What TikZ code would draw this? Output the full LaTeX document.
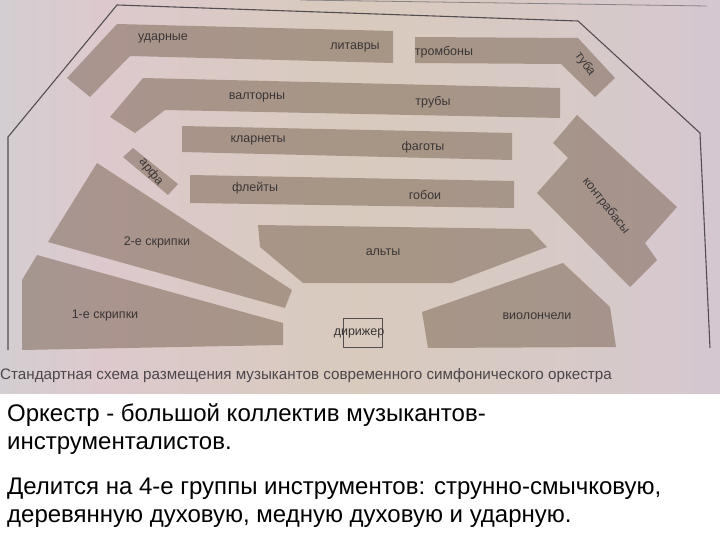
\documentclass[tikz,border=0pt]{standalone}
\usepackage{fontspec}
\setmainfont{Liberation Sans}
\definecolor{cA}{HTML}{D3CED1}
\definecolor{cB}{HTML}{DDC9CD}
\definecolor{cC}{HTML}{D8CABD}
\definecolor{cD}{HTML}{D7CAC6}
\definecolor{cE}{HTML}{D5C7D0}
\definecolor{blockc}{RGB}{100,76,56}
\definecolor{labelc}{HTML}{3A3637}
\definecolor{linec}{HTML}{544E52}
\pgfdeclarehorizontalshading{photo}{100bp}{color(0bp)=(cA); color(25bp)=(cA); color(32bp)=(cB); color(50bp)=(cC); color(63bp)=(cD); color(75bp)=(cE); color(100bp)=(cE)}
\begin{document}
\begin{tikzpicture}[x=1pt,y=-1pt,
  block/.style={fill=blockc,fill opacity=0.42,draw=none},
  lbl/.style={text=labelc,font=\fontsize{12.5}{14}\selectfont,inner sep=0pt},
  stage/.style={draw=linec,line width=1.1pt},
  body/.style={anchor=base west,inner sep=0pt,font=\fontsize{24}{28}\selectfont,text=black}]
\useasboundingbox (0,0) rectangle (720,540);
\shade[shading=photo] (0,0) rectangle (720,394);
\fill[white] (0,394) rectangle (720,540);
% stage outline
\draw[stage] (8,350) -- (8,137) -- (117,5) -- (578,21) -- (700,133) -- (710,348);
\draw[linec!70,line width=0.8pt] (300,0) -- (707,6);
% blocks
\path[block] (117,24) -- (393,31) -- (393,63) -- (130,56) -- (90,97) -- (67,78) -- cycle;
\path[block] (415,37) -- (578,38) -- (615,78) -- (595,97) -- (561,64) -- (415,63) -- cycle;
\path[block] (143,78) -- (560,88) -- (560,118) -- (165,110) -- (135,133) -- (110,117) -- cycle;
\path[block] (182,126) -- (512,133) -- (512,160) -- (182,152) -- cycle;
\path[block] (190,175) -- (514,181) -- (514,208) -- (190,203) -- cycle;
\path[block] (123,157) -- (133,148) -- (178,184) -- (168,195) -- cycle;
\path[block] (97,163) -- (292,290) -- (285,308) -- (48,242) -- cycle;
\path[block] (37,255) -- (283,323) -- (283,345) -- (22,350) -- (22,280) -- cycle;
\path[block] (258,225) -- (530,229) -- (547,247) -- (452,283) -- (303,283) -- (260,247) -- cycle;
\path[block] (577,115) -- (677,207) -- (645,243) -- (657,260) -- (630,287) -- (537,193) -- (568,158) -- (553,143) -- cycle;
\path[block] (422,312) -- (563,263) -- (610,307) -- (616,347) -- (428,348) -- cycle;
% conductor
\node[draw=linec,line width=0.9pt,minimum width=39pt,minimum height=29pt,inner sep=0pt] (box) at (362.5,332.5) {};
\node[lbl] (dir) at (359,333) {дирижер};
% labels
\node[lbl] (udar) at (163,38) {ударные};
\node[lbl] (lit) at (355,47) {литавры};
\node[lbl] (trom) at (444,52) {тромбоны};
\node[lbl,rotate=-55] (tuba) at (585,64) {туба};
\node[lbl] (valt) at (257,97) {валторны};
\node[lbl] (trub) at (433,102) {трубы};
\node[lbl] (klar) at (258,140) {кларнеты};
\node[lbl] (fag) at (423,147) {фаготы};
\node[lbl] (fl) at (255,188) {флейты};
\node[lbl] (gob) at (425,195) {гобои};
\node[lbl,rotate=-52] (arfa) at (151,172) {арфа};
\node[lbl] (skr2) at (157,242) {2-е скрипки};
\node[lbl] (skr1) at (105,315) {1-е скрипки};
\node[lbl] (alt) at (383,252) {альты};
\node[lbl,rotate=-52] (kb) at (606,206) {контрабасы};
\node[lbl] (vlc) at (537,316) {виолончели};
% caption
\node[anchor=west,inner sep=0pt,text=linec!90!black,font=\fontsize{15.2}{17}\selectfont] (cap) at (0,376) {Стандартная схема размещения музыкантов современного симфонического оркестра};
% body text
\node[body] (t1) at (7,421) {Оркестр - большой коллектив музыкантов-};
\node[body] (t2) at (7,449) {инструменталистов.};
\node[body] (t3) at (7,494) {Делится на 4-е группы инструментов: струнно-смычковую,};
\node[body] (t4) at (7,522) {деревянную духовую, медную духовую и ударную.};
\end{tikzpicture}
\end{document}
